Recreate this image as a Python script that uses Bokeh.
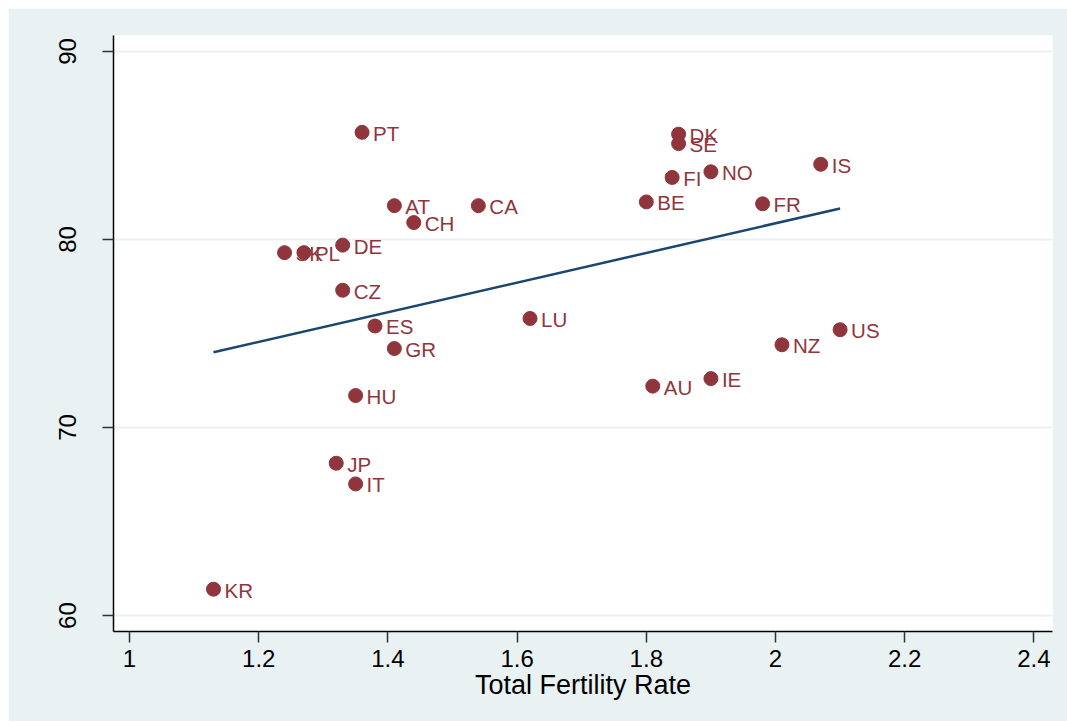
from bokeh.plotting import figure
from bokeh.models import ColumnDataSource, Range1d, FixedTicker
from bokeh.core.properties import value
from bokeh.embed import file_html
from bokeh.resources import INLINE

countries = ["KR", "JP", "IT", "HU", "GR", "ES", "CZ", "SK", "PL", "DE", "AT", "CH", "CA",
             "PT", "LU", "AU", "IE", "BE", "FI", "DK", "SE", "NO", "FR", "IS", "NZ", "US"]
tfr = [1.13, 1.32, 1.35, 1.35, 1.41, 1.38, 1.33, 1.24, 1.27, 1.33, 1.41, 1.44, 1.54,
       1.36, 1.62, 1.81, 1.90, 1.80, 1.84, 1.85, 1.85, 1.90, 1.98, 2.07, 2.01, 2.10]
yval = [61.4, 68.1, 67.0, 71.7, 74.2, 75.4, 77.3, 79.3, 79.3, 79.7, 81.8, 80.9, 81.8,
        85.7, 75.8, 72.2, 72.6, 82.0, 83.3, 85.6, 85.1, 83.6, 81.9, 84.0, 74.4, 75.2]
fit_x = [1.13, 2.10]
fit_y = [74.0, 81.65]
x_ticks = [1, 1.2, 1.4, 1.6, 1.8, 2, 2.2, 2.4]
y_ticks = [60, 70, 80, 90]

BG = "#E9F1F3"
MAROON = "#90353B"
NAVY = "#1A476F"
FONT = "Liberation Sans"

p = figure(width=1059, height=713, output_backend="svg", toolbar_location=None,
           x_range=Range1d(0.9752, 2.4288), y_range=Range1d(59.15, 90.85),
           min_border_left=105, min_border_right=15, min_border_top=27, min_border_bottom=90)
p.margin = (8, 0, 0, 8)
p.background_fill_color = "white"
p.border_fill_color = BG
p.outline_line_color = None

p.xgrid.visible = False
p.ygrid.grid_line_color = BG
p.ygrid.grid_line_width = 2
p.ygrid.ticker = FixedTicker(ticks=y_ticks)

for ax in (p.xaxis[0], p.yaxis[0]):
    ax.axis_line_color = "black"
    ax.axis_line_width = 1.5
    ax.major_tick_line_color = "#333333"
    ax.major_tick_line_width = 1.5
    ax.major_tick_out = 11
    ax.major_tick_in = 0
    ax.minor_tick_line_color = None
    ax.major_label_text_font = FONT
    ax.major_label_text_font_size = "24px"
    ax.major_label_text_color = "black"

p.xaxis.ticker = FixedTicker(ticks=x_ticks)
p.xaxis.major_label_overrides = {1: "1", 1.2: "1.2", 1.4: "1.4", 1.6: "1.6", 1.8: "1.8",
                                 2: "2", 2.2: "2.2", 2.4: "2.4"}
p.xaxis.major_label_standoff = 7
p.xaxis.axis_label = "Total Fertility Rate"
p.xaxis.axis_label_text_font = FONT
p.xaxis.axis_label_text_font_size = "27px"
p.xaxis.axis_label_text_font_style = "normal"
p.xaxis.axis_label_text_color = "black"
p.xaxis.axis_label_standoff = 0

p.yaxis.ticker = FixedTicker(ticks=y_ticks)
p.yaxis.major_label_orientation = "vertical"
p.yaxis.major_label_standoff = 26

src = ColumnDataSource(dict(x=tfr, y=yval, label=countries))

p.line(fit_x, fit_y, line_color=NAVY, line_width=2.5)
p.text(x="x", y="y", text="label", source=src, x_offset=11, y_offset=1,
       text_baseline="middle", text_align="left", text_color=MAROON,
       text_font=value(FONT), text_font_size="20.5px")
p.scatter(x="x", y="y", source=src, size=14, fill_color=MAROON, line_color=MAROON)

open("out.html", "w").write(file_html(p, INLINE))
